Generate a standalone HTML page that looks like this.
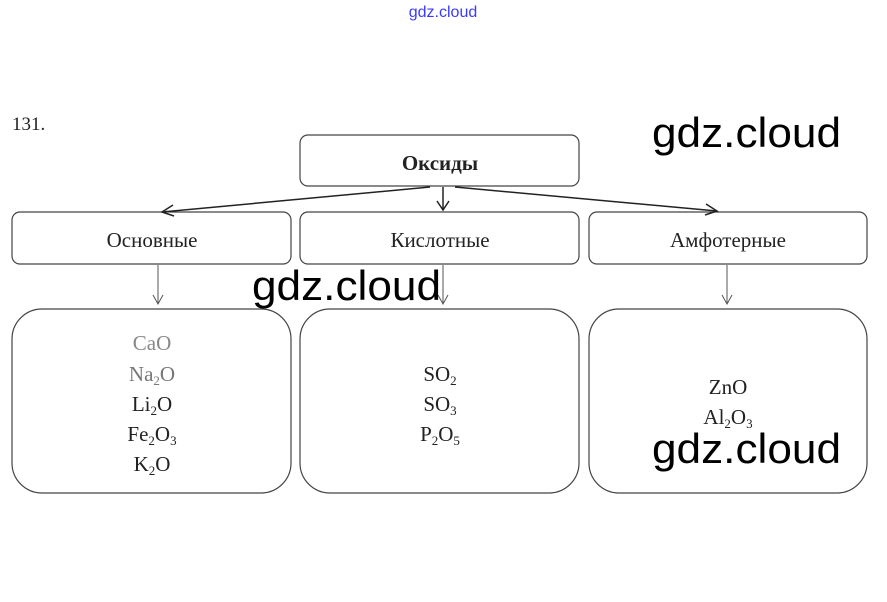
<!DOCTYPE html>
<html><head><meta charset="utf-8"><style>
html,body{margin:0;padding:0;background:#fff;}
svg{display:block;}
.s{font-family:"Liberation Serif",serif;fill:#222;}
.w{font-family:"Liberation Sans",sans-serif;fill:#000;}
</style></head><body>
<svg width="887" height="602" viewBox="0 0 887 602" xmlns="http://www.w3.org/2000/svg">
<text x="443" y="17" text-anchor="middle" font-family="Liberation Sans,sans-serif" font-size="16" fill="#3a3aff">gdz.cloud</text>
<text class="s" x="12" y="130" font-size="19">131.</text>
<g fill="none" stroke="#444" stroke-width="1.2">
<rect x="300" y="135" width="279" height="51" rx="8"/>
<rect x="12" y="212" width="279" height="52" rx="8"/>
<rect x="300" y="212" width="279" height="52" rx="8"/>
<rect x="589" y="212" width="278" height="52" rx="8"/>
<rect x="12" y="309" width="279" height="184" rx="30"/>
<rect x="300" y="309" width="279" height="184" rx="30"/>
<rect x="589" y="309" width="278" height="184" rx="30"/>
</g>
<g fill="none" stroke="#222" stroke-width="1.5">
<line x1="430" y1="187" x2="162" y2="212"/><polyline points="173,205 162,212 174,216"/>
<line x1="443" y1="187" x2="443" y2="210"/><polyline points="437,201 443,210 449,201"/>
<line x1="455" y1="187" x2="717" y2="211"/><polyline points="706,204 717,211 705,215"/>
</g>
<g fill="none" stroke="#555" stroke-width="1">
<line x1="158" y1="265" x2="158" y2="304"/><polyline points="153,295 158,304 163,295"/>
<line x1="443" y1="265" x2="443" y2="304"/><polyline points="438,295 443,304 448,295"/>
<line x1="727" y1="265" x2="727" y2="304"/><polyline points="722,295 727,304 732,295"/>
</g>
<text class="s" x="440" y="170" font-size="21" font-weight="bold" text-anchor="middle">Оксиды</text>
<text class="s" x="152" y="247" font-size="21" text-anchor="middle">Основные</text>
<text class="s" x="440" y="247" font-size="21" text-anchor="middle">Кислотные</text>
<text class="s" x="728" y="247" font-size="21" text-anchor="middle">Амфотерные</text>
<g class="s" font-size="21" text-anchor="middle">
<text x="152" y="350" fill="#888">CaO</text>
<text x="152" y="381" fill="#777">Na<tspan font-size="13" dy="4">2</tspan><tspan dy="-4">O</tspan></text>
<text x="152" y="411">Li<tspan font-size="13" dy="4">2</tspan><tspan dy="-4">O</tspan></text>
<text x="152" y="441">Fe<tspan font-size="13" dy="4">2</tspan><tspan dy="-4">O</tspan><tspan font-size="13" dy="4">3</tspan></text>
<text x="152" y="471">K<tspan font-size="13" dy="4">2</tspan><tspan dy="-4">O</tspan></text>
<text x="440" y="381">SO<tspan font-size="13" dy="4">2</tspan></text>
<text x="440" y="411">SO<tspan font-size="13" dy="4">3</tspan></text>
<text x="440" y="441">P<tspan font-size="13" dy="4">2</tspan><tspan dy="-4">O</tspan><tspan font-size="13" dy="4">5</tspan></text>
<text x="728" y="394">ZnO</text>
<text x="728" y="424">Al<tspan font-size="13" dy="4">2</tspan><tspan dy="-4">O</tspan><tspan font-size="13" dy="4">3</tspan></text>
</g>
<g class="w" font-size="42">
<text x="652" y="147" textLength="189" lengthAdjust="spacingAndGlyphs">gdz.cloud</text>
<text x="252" y="300" textLength="189" lengthAdjust="spacingAndGlyphs">gdz.cloud</text>
<text x="652" y="463" textLength="189" lengthAdjust="spacingAndGlyphs">gdz.cloud</text>
</g>
</svg>
</body></html>
